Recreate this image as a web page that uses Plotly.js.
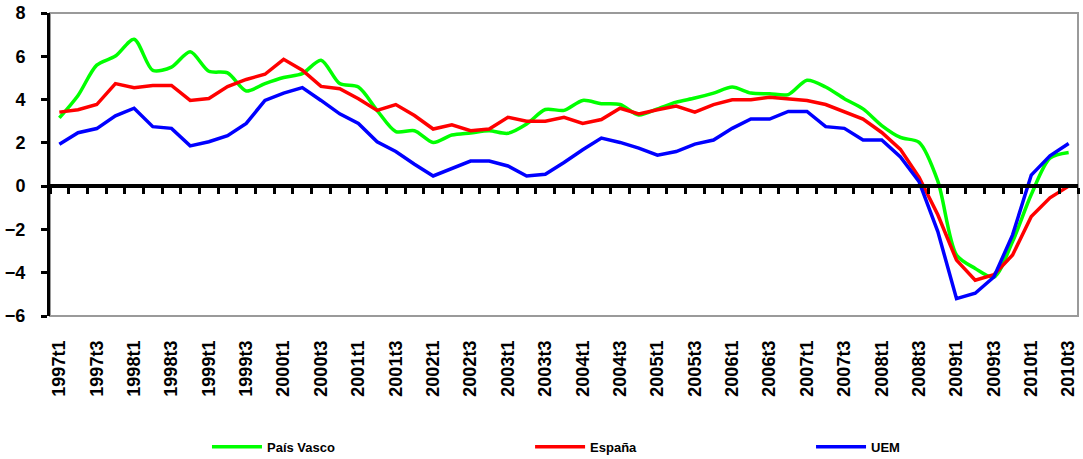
<!DOCTYPE html>
<html>
<head>
<meta charset="utf-8">
<script src="https://cdn.plot.ly/plotly-3.0.1.min.js"></script>
<style>html,body{margin:0;padding:0;background:#fff;}#chart{width:1083px;height:459px;}</style>
</head>
<body>
<div id="chart"></div>
<script>
const quarters = [
 "1997t1","1997t2","1997t3","1997t4","1998t1","1998t2","1998t3","1998t4",
 "1999t1","1999t2","1999t3","1999t4","2000t1","2000t2","2000t3","2000t4",
 "2001t1","2001t2","2001t3","2001t4","2002t1","2002t2","2002t3","2002t4",
 "2003t1","2003t2","2003t3","2003t4","2004t1","2004t2","2004t3","2004t4",
 "2005t1","2005t2","2005t3","2005t4","2006t1","2006t2","2006t3","2006t4",
 "2007t1","2007t2","2007t3","2007t4","2008t1","2008t2","2008t3","2008t4",
 "2009t1","2009t2","2009t3","2009t4","2010t1","2010t2","2010t3"
];
const tickLabels = [
 "1997t1","1997t3","1998t1","1998t3","1999t1","1999t3","2000t1","2000t3",
 "2001t1","2001t3","2002t1","2002t3","2003t1","2003t3","2004t1","2004t3",
 "2005t1","2005t3","2006t1","2006t3","2007t1","2007t3","2008t1","2008t3",
 "2009t1","2009t3","2010t1","2010t3"
];
const paisVasco = [3.15,4.19,5.59,6.01,6.79,5.35,5.5,6.21,5.31,5.23,4.4,4.74,5.02,5.2,5.82,4.74,4.58,
 3.5,2.52,2.56,2.02,2.36,2.46,2.56,2.44,2.87,3.54,3.5,3.96,3.81,3.77,3.29,3.57,3.88,4.07,
 4.3,4.58,4.3,4.27,4.23,4.89,4.58,4.04,3.57,2.8,2.25,2.02,
 0.23,-3.18,-3.8,-4.2,-2.56,-0.39,1.29,1.55];
const espana = [3.42,3.53,3.77,4.74,4.55,4.65,4.65,3.96,4.05,4.6,4.93,5.17,5.86,5.36,4.61,4.5,4.04,
 3.5,3.77,3.26,2.64,2.83,2.56,2.64,3.18,3.0,3.0,3.18,2.9,3.08,3.6,3.34,3.53,3.7,3.42,
 3.77,3.99,3.99,4.11,4.04,3.96,3.77,3.42,3.1,2.48,1.7,0.4,
 -1.32,-3.42,-4.35,-4.09,-3.18,-1.4,-0.54,0.0];
const uem = [1.94,2.47,2.66,3.25,3.6,2.75,2.67,1.86,2.05,2.33,2.9,3.96,4.3,4.55,3.96,3.34,2.9,
 2.05,1.6,1.01,0.47,0.82,1.16,1.16,0.93,0.47,0.55,1.09,1.68,2.22,2.02,1.76,1.43,1.6,1.94,
 2.13,2.67,3.1,3.1,3.45,3.45,2.75,2.67,2.13,2.13,1.35,0.2,
 -2.1,-5.2,-4.95,-4.2,-2.25,0.51,1.4,1.97];
const yTicks = [-6,-4,-2,0,2,4,6,8];

const FONT = "Liberation Sans, Arial, sans-serif";
const traces = [
 {x: quarters, y: paisVasco, name: "País Vasco", type: "scatter", mode: "lines", legend: "legend",
  line: {color: "#00FF00", width: 3.5, shape: "spline", smoothing: 0.8}},
 {x: quarters, y: espana, name: "España", type: "scatter", mode: "lines", legend: "legend2",
  line: {color: "#FF0000", width: 3.5}},
 {x: quarters, y: uem, name: "UEM", type: "scatter", mode: "lines", legend: "legend3",
  line: {color: "#0000FF", width: 3.5}},
 {x: quarters, y: uem, xaxis: "x2", type: "scatter", mode: "lines", opacity: 0,
  showlegend: false, hoverinfo: "skip", line: {width: 0.1}}
];
function legendAt(x) {
 return {orientation: "h", x: x, xanchor: "left", y: -0.432, yanchor: "middle",
  itemwidth: 50, bgcolor: "rgba(0,0,0,0)",
  font: {family: FONT, size: 13, weight: "bold", color: "#000"}};
}
const layout = {
 width: 1083, height: 459,
 margin: {l: 50, r: 5, t: 13, b: 143, autoexpand: false},
 paper_bgcolor: "#fff", plot_bgcolor: "#fff",
 font: {family: FONT, color: "#000"},
 showlegend: true,
 legend: legendAt(0.1527),
 legend2: legendAt(0.467),
 legend3: legendAt(0.7403),
 xaxis: {type: "category", categoryarray: quarters, range: [-0.5, quarters.length - 0.5],
  anchor: "free", position: 6/14, showgrid: false, zeroline: false, automargin: false,
  showline: true, linecolor: "#000", linewidth: 4,
  ticks: "outside", tickson: "boundaries", dtick: 1, ticklen: 6, tickwidth: 3, tickcolor: "#000",
  showticklabels: false, layer: "above traces"},
 xaxis2: {type: "category", categoryarray: quarters, range: [-0.5, quarters.length - 0.5],
  overlaying: "x", anchor: "y", side: "bottom", showgrid: false, zeroline: false, automargin: false,
  showline: false, ticks: "", tickmode: "array", tickvals: tickLabels, ticktext: tickLabels,
  tickangle: -90, ticklabelstandoff: 20,
  tickfont: {family: FONT, size: 18, weight: "bold", color: "#000"}},
 yaxis: {range: [-6, 8], tickvals: yTicks, showgrid: false, zeroline: false, automargin: false,
  showline: true, linecolor: "#000", linewidth: 3,
  ticks: "outside", ticklen: 6, tickwidth: 3, tickcolor: "#000", ticklabelstandoff: 12,
  tickfont: {family: FONT, size: 18, weight: "bold", color: "#000"}},
 shapes: [{type: "rect", xref: "paper", yref: "paper", x0: 0, x1: 1, y0: 0, y1: 1,
  line: {color: "#9a9a9a", width: 2}, layer: "below"}]
};
Plotly.newPlot("chart", traces, layout, {staticPlot: true, displayModeBar: false});
</script>
</body>
</html>
